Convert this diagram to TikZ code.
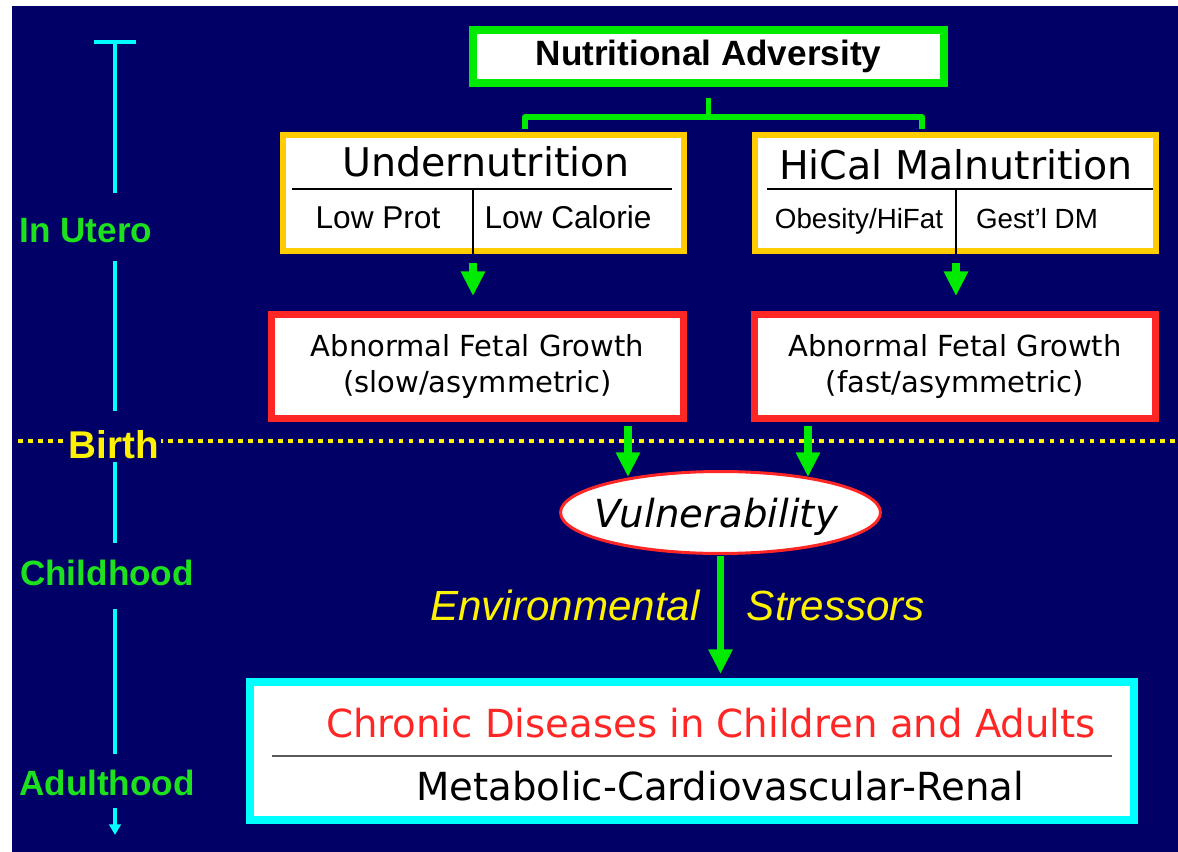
\documentclass[tikz,border=0pt]{standalone}
\usepackage{fontspec}
\setmainfont{Liberation Sans}
\newfontfamily\comicfont{DejaVu Sans}
\usetikzlibrary{arrows.meta,shapes.geometric}
\definecolor{navy}{RGB}{0,0,102}
\definecolor{leaf}{RGB}{0,235,0}
\definecolor{amber}{RGB}{255,204,0}
\definecolor{brick}{RGB}{255,38,38}
\definecolor{aqua}{RGB}{0,255,255}
\definecolor{agegreen}{RGB}{30,225,30}
\definecolor{rulegray}{RGB}{90,90,90}

\begin{document}
\begin{tikzpicture}[x=0.02cm,y=-0.02cm,
    box/.style={draw,fill=white,inner sep=0pt,text=black},
    link/.style={leaf,line width=3.4pt,line join=round},
    arrow/.style={leaf,line width=4pt,-{Triangle[length=14pt,width=13pt]}},
    timeline/.style={aqua,line width=2pt},
    age/.style={agegreen,inner sep=0pt,anchor=base,font=\bfseries\fontsize{20}{24}\selectfont},
    divider/.style={black,line width=0.9pt},
    comic/.style={font=\comicfont\fontsize{22.5}{27}\selectfont},
    cell/.style={anchor=base,font=\fontsize{18}{22}\selectfont},
    stress/.style={yellow,anchor=base,font=\itshape\fontsize{24}{28}\selectfont}]
  \useasboundingbox (0,0) rectangle (1178,852);
  \fill[navy] (12,6) rectangle (1178,852);

  % birth line
  \draw[yellow,line width=2.8pt,dash pattern=on 2.8pt off 2.9pt] (18,441) -- (1178,441);

  % time axis
  \coordinate (tltop) at (115,40);
  \coordinate (tlend) at (115,835);
  \node[age] (utero) at (86,242) {In Utero};
  \node[age,yellow,fill=navy,inner sep=1pt,font=\bfseries\fontsize{22}{26}\selectfont] (birth) at (114,458) {Birth};
  \node[age] (child) at (107,585) {Childhood};
  \node[age] (adult) at (107,795) {Adulthood};
  \draw[timeline,{Bar[width=24pt]}-,shorten >=14.1pt] (tltop) -- (tltop |- utero.north);
  \draw[timeline,shorten <=10.2pt,shorten >=9.4pt] (tltop |- utero.south) -- (tltop |- birth.north);
  \draw[timeline,shorten <=0.7pt,shorten >=9pt] (tltop |- birth.south) -- (tltop |- child.north);
  \draw[timeline,shorten <=13.1pt,shorten >=8.4pt] (tltop |- child.south) -- (tltop |- adult.north);
  \draw[timeline,-{Triangle[length=6pt,width=6.5pt]},shorten <=6.8pt] (tltop |- adult.south) -- (tlend);

  % top box
  \node[box,draw=leaf,line width=4.5pt,minimum width=9.42cm,minimum height=1.06cm,
        font=\bfseries\fontsize{20}{24}\selectfont] (adv) at (708.5,56.5) {Nutritional Adversity};

  % undernutrition
  \node[box,draw=amber,line width=3.4pt,minimum width=8.02cm,minimum height=2.32cm] (under) at (483.5,193) {};
  \node[comic,anchor=base] (undertitle) at (486,176) {Undernutrition};
  \node[cell] (lowprot) at (378,228) {Low Prot};
  \node[cell] (lowcal) at (568,228) {Low Calorie};
  \coordinate (usplit) at (473,189);
  \draw[divider] (292,189) -- (672,189);
  \draw[divider] (usplit) -- (usplit |- under.south);

  % hical malnutrition
  \node[box,draw=amber,line width=3.4pt,minimum width=8.02cm,minimum height=2.32cm] (hical) at (955.5,193) {};
  \node[comic,anchor=base] (hicaltitle) at (956,179) {HiCal Malnutrition};
  \node[cell,font=\fontsize{15.8}{19}\selectfont] (obesity) at (859,228) {Obesity/HiFat};
  \node[cell,font=\fontsize{15.8}{19}\selectfont] (gestdm) at (1037,228) {Gest’l DM};
  \coordinate (hsplit) at (956,189);
  \draw[divider] (767,189) -- (1153,189);
  \draw[divider] (hsplit) -- (hsplit |- hical.south);

  % fetal growth
  \node[box,draw=brick,line width=4pt,minimum width=8.24cm,minimum height=2.08cm,align=center,
        font=\comicfont\fontsize{16.5}{21}\selectfont] (slow) at (477.5,366.5) {Abnormal Fetal Growth\\(slow/asymmetric)};
  \node[box,draw=brick,line width=4pt,minimum width=8.02cm,minimum height=2.08cm,align=center,
        font=\comicfont\fontsize{16.5}{21}\selectfont] (fast) at (955,366.5) {Abnormal Fetal Growth\\(fast/asymmetric)};

  % vulnerability
  \node[ellipse,draw=brick,fill=white,line width=1.7pt,minimum width=6.4cm,minimum height=1.64cm,inner sep=0pt] (vul) at (720.5,512.5) {};
  \node[anchor=base,font=\comicfont\itshape\fontsize{22}{26}\selectfont] (vultext) at (716,527) {Vulnerability};
  \coordinate (inL) at (628,477);
  \coordinate (inR) at (808,477);

  % outcome
  \node[box,draw=aqua,line width=4.5pt,minimum width=17.68cm,minimum height=2.76cm] (chronic) at (692,751) {};
  \node[comic,anchor=base,text=brick,font=\comicfont\fontsize{22}{26}\selectfont] (chronictitle) at (711,737) {Chronic Diseases in Children and Adults};
  \node[comic,anchor=base,font=\comicfont\fontsize{22}{26}\selectfont] (renal) at (720,800) {Metabolic-Cardiovascular-Renal};
  \draw[rulegray,line width=1.1pt] (272,756) -- (1112,756);

  \node[stress] (env) at (565,620) {Environmental};
  \node[stress] (stressors) at (836,620) {Stressors};

  % links
  \coordinate (forkL) at (525,117);
  \coordinate (forkR) at (922,117);
  \draw[link,shorten <=6.3pt] (adv.south) -- (adv.south |- forkL);
  \draw[link,shorten <=1.7pt,shorten >=1.7pt] (under.north -| forkL) -- (forkL) -- (forkR) -- (hical.north -| forkR);

  % arrows
  \draw[arrow,shorten <=5pt,shorten >=8.5pt] (usplit |- under.south) -- (usplit |- slow.north);
  \draw[arrow,shorten <=5pt,shorten >=8.5pt] (hsplit |- hical.south) -- (hsplit |- fast.north);
  \draw[arrow,shorten <=2pt] (slow.south -| inL) -- (inL);
  \draw[arrow,shorten <=2pt] (fast.south -| inR) -- (inR);
  \draw[arrow,shorten <=0.5pt,shorten >=2.3pt] (vul.south) -- (vul.south |- chronic.north);
\end{tikzpicture}
\end{document}
